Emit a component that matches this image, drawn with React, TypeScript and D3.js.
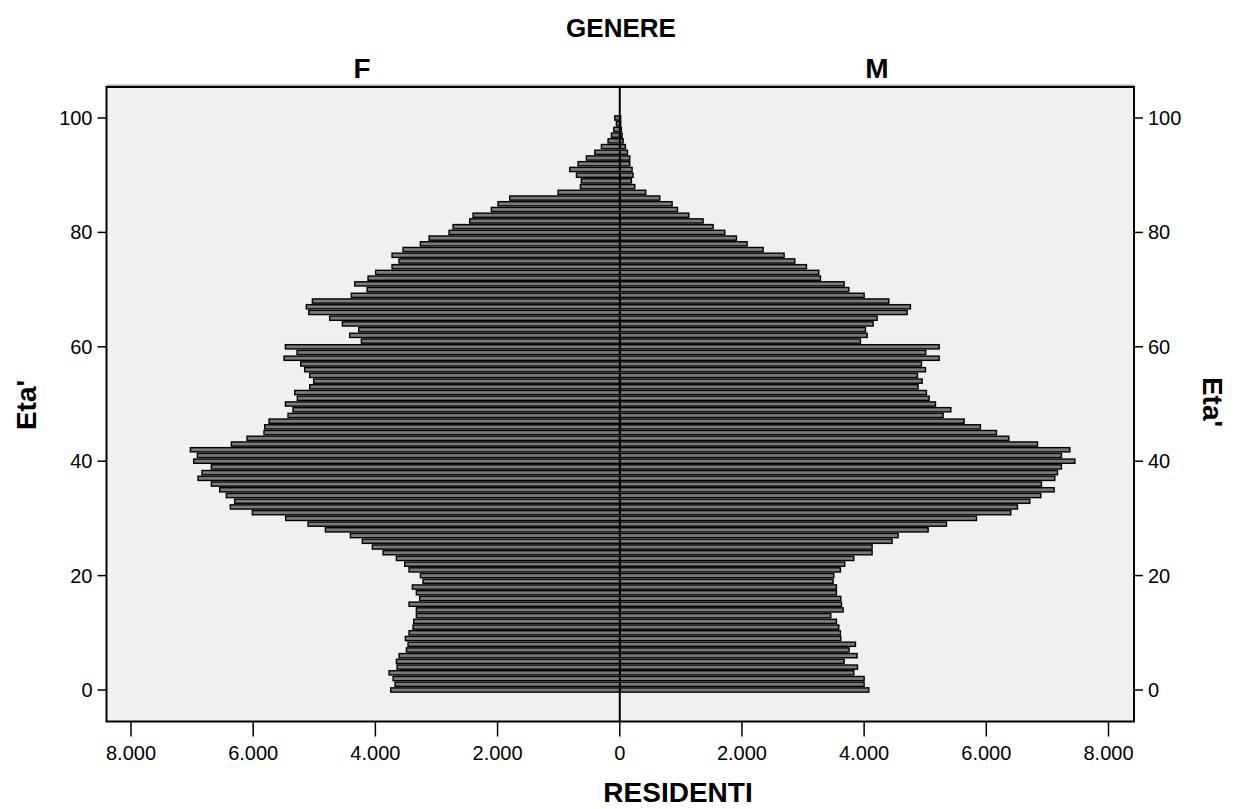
import React from "react";
import * as d3 from "d3";

const ages: number[] = d3.range(0, 101);
const female: number[] = [
  3749, 3678, 3710, 3776, 3645, 3656, 3612, 3492, 3465, 3509,
  3449, 3383, 3372, 3329, 3329, 3449, 3274, 3329, 3394, 3220,
  3263, 3449, 3520, 3656, 3874, 4049, 4213, 4409, 4818, 5102,
  5468, 6014, 6374, 6303, 6439, 6548, 6685, 6903, 6838, 6685,
  6974, 6914, 7028, 6357, 6101, 5823, 5812, 5741, 5430, 5348,
  5473, 5277, 5320, 5075, 5010, 5075, 5157, 5222, 5495, 5282,
  5473, 4229, 4420, 4273, 4540, 4748, 5091, 5130, 5031, 4393,
  4136, 4338, 4120, 3995, 3727, 3613, 3727, 3547, 3263, 3121,
  2794, 2729, 2456, 2401, 2101, 1992, 1801, 1010, 644, 628,
  709, 819, 682, 546, 409, 300, 191, 136, 98, 55, 82,
];
const male: number[] = [
  4076, 4000, 4000, 3831, 3891, 3673, 3885, 3754, 3858, 3618,
  3612, 3585, 3547, 3454, 3656, 3629, 3618, 3547, 3547, 3492,
  3503, 3612, 3683, 3831, 4131, 4131, 4458, 4557, 5048, 5348,
  5839, 6401, 6510, 6712, 6892, 7110, 6903, 7121, 7165, 7230,
  7449, 7230, 7367, 6838, 6368, 6166, 5904, 5637, 5293, 5419,
  5168, 5064, 5020, 4884, 4950, 4873, 5004, 4939, 5228, 5009,
  5228, 3940, 4049, 4022, 4147, 4213, 4704, 4758, 4404, 4000,
  3749, 3673, 3285, 3258, 3056, 2865, 2690, 2347, 2085, 1910,
  1719, 1528, 1364, 1130, 944, 857, 655, 426, 246, 191,
  218, 202, 164, 164, 126, 93, 55, 38, 27, 16, 15,
];
const xTicks: number[] = [-8000, -6000, -4000, -2000, 0, 2000, 4000, 6000, 8000];
const yTicks: number[] = [0, 20, 40, 60, 80, 100];
const sexLabels: string[] = ["F", "M"];
const title = "GENERE";
const xTitle = "RESIDENTI";
const yTitle = "Eta'";

const W = 1238;
const H = 809;
const left = 106.5;
const right = 1134;
const top = 87;
const bottom = 721.5;

const x = d3.scaleLinear().domain([-8000, 8000]).range([131, 1108.5]);
const y = d3.scaleLinear().domain([0, 100]).range([690, 118]);

const it = d3.formatLocale({ decimal: ",", thousands: ".", grouping: [3], currency: ["", "€"] });
const fmt = it.format(",");

const FONT = "'Liberation Sans', Arial, Helvetica, sans-serif";

export default function App() {
  const band = Math.abs(y(1) - y(0));
  const bh = band - 1.5;
  const cx = x(0);
  return (
    <svg width={W} height={H} style={{ position: "absolute", left: 0, top: 0, background: "#fff" }} fontFamily={FONT}>
      <rect x={0} y={0} width={W} height={H} fill="#fff" />
      <rect x={left} y={top} width={right - left} height={bottom - top} fill="#f0f0f0" />
      {/* bars */}
      {ages.map((a, i) => (
        <g key={a}>
          <rect
            x={x(-female[i])}
            y={y(a) - bh / 2}
            width={cx - x(-female[i])}
            height={bh}
            fill="#7a7a7a"
            stroke="#000"
            strokeWidth={1.4}
          />
          <rect
            x={cx}
            y={y(a) - bh / 2}
            width={x(male[i]) - cx}
            height={bh}
            fill="#7a7a7a"
            stroke="#000"
            strokeWidth={1.4}
          />
        </g>
      ))}
      {/* center line */}
      <line x1={cx} x2={cx} y1={top} y2={bottom} stroke="#000" strokeWidth={2} />
      {/* frame */}
      <line x1={left} x2={right} y1={top - 1.5} y2={top - 1.5} stroke="#aaa" strokeWidth={2} />
      <rect x={left} y={top} width={right - left} height={bottom - top} fill="none" stroke="#000" strokeWidth={2} />
      {/* bottom axis */}
      {xTicks.map((t) => (
        <g key={t}>
          <line x1={x(t)} x2={x(t)} y1={bottom} y2={bottom + 15} stroke="#000" strokeWidth={1.5} />
          <text x={x(t)} y={760} textAnchor="middle" fontSize={20} fill="#000">
            {fmt(Math.abs(t))}
          </text>
        </g>
      ))}
      {/* left and right axes */}
      {yTicks.map((t) => (
        <g key={t}>
          <line x1={left - 9} x2={left} y1={y(t)} y2={y(t)} stroke="#000" strokeWidth={1.5} />
          <text x={left - 14} y={y(t) + 7} textAnchor="end" fontSize={20} fill="#000">
            {t}
          </text>
          <line x1={right} x2={right + 9} y1={y(t)} y2={y(t)} stroke="#000" strokeWidth={1.5} />
          <text x={right + 14} y={y(t) + 7} textAnchor="start" fontSize={20} fill="#000">
            {t}
          </text>
        </g>
      ))}
      {/* titles */}
      <text x={621} y={37} textAnchor="middle" fontSize={26} fontWeight="bold" fill="#000">
        {title}
      </text>
      <text x={(left + cx) / 2 - 1} y={78} textAnchor="middle" fontSize={28} fontWeight="bold" fill="#000">
        {sexLabels[0]}
      </text>
      <text x={(cx + right) / 2} y={78} textAnchor="middle" fontSize={28} fontWeight="bold" fill="#000">
        {sexLabels[1]}
      </text>
      <text x={678} y={802} textAnchor="middle" fontSize={28} fontWeight="bold" fill="#000">
        {xTitle}
      </text>
      <text transform={`translate(36,405) rotate(-90)`} textAnchor="middle" fontSize={28} fontWeight="bold" fill="#000">
        {yTitle}
      </text>
      <text transform={`translate(1203,402) rotate(90)`} textAnchor="middle" fontSize={28} fontWeight="bold" fill="#000">
        {yTitle}
      </text>
    </svg>
  );
}
